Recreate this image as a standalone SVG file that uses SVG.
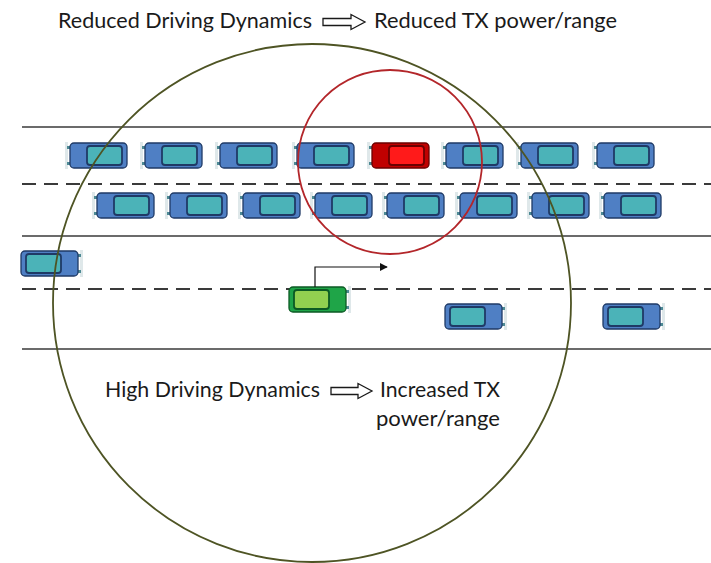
<svg xmlns="http://www.w3.org/2000/svg" xmlns:xlink="http://www.w3.org/1999/xlink" width="711" height="563" viewBox="0 0 711 563">
  <style>
    .road { stroke: #3a3a3a; stroke-width: 1.6; fill: none; }
    .lane { stroke: #3a3a3a; stroke-width: 1.8; fill: none; stroke-dasharray: 14 8; }
    .lbl { font-family: Lato, "Liberation Sans", sans-serif; font-size: 21px; fill: #1a1a1a; }
    .hollow { fill: #ffffff; stroke: #1a1a1a; stroke-width: 1.3; stroke-linejoin: miter; }
    .body { fill: var(--body, #4f7fc4); stroke: var(--edge, #1f3a66); stroke-width: 1.3; }
    .glass { fill: var(--glass, #4bb3b8); stroke: var(--edge, #1f3a66); stroke-width: 1.8; }
    .bumper { fill: #dfe8ea; }
    .lamp { fill: #4d8a94; }
    .red { --body: #c00000; --glass: #ff1a1a; --edge: #6b0000; }
    .green { --body: #1fa548; --glass: #92d050; --edge: #0c5a24; }
  </style>
  <defs>
    <!-- car facing left: bumper on the left, windscreen block towards the right -->
    <symbol id="car" overflow="visible">
      <rect class="bumper" x="-5" y="-1" width="3" height="27"/>
      <rect class="lamp" x="-3" y="3" width="3" height="3"/>
      <rect class="lamp" x="-3" y="19" width="3" height="3"/>
      <rect class="body" x="0" y="0" width="57" height="25" rx="4"/>
      <rect class="glass" x="17" y="3" width="35" height="19" rx="3"/>
    </symbol>
    <marker id="head" viewBox="0 0 10 10" refX="9" refY="5" markerWidth="8" markerHeight="8" orient="auto" markerUnits="userSpaceOnUse">
      <path d="M0,0 L10,5 L0,10 z" fill="#111"/>
    </marker>
  </defs>

  <!-- road markings -->
  <g id="road">
    <line class="road" x1="22" y1="127" x2="711" y2="127"/>
    <line class="lane" x1="22" y1="184" x2="711" y2="184"/>
    <line class="road" x1="22" y1="236" x2="711" y2="236"/>
    <line class="lane" x1="22" y1="289" x2="711" y2="289"/>
    <line class="road" x1="22" y1="349" x2="711" y2="349"/>
  </g>

  <!-- upper carriageway, lane 1 -->
  <g id="lane1">
    <g id="car-1-1"><use xlink:href="#car" x="70" y="143"/></g>
    <g id="car-1-2"><use xlink:href="#car" x="145" y="143"/></g>
    <g id="car-1-3"><use xlink:href="#car" x="220" y="143"/></g>
    <g id="car-1-4"><use xlink:href="#car" x="297" y="143"/></g>
    <g id="car-red" class="red"><use xlink:href="#car" x="372" y="143"/></g>
    <g id="car-1-6"><use xlink:href="#car" x="446" y="143"/></g>
    <g id="car-1-7"><use xlink:href="#car" x="521" y="143"/></g>
    <g id="car-1-8"><use xlink:href="#car" x="597" y="143"/></g>
  </g>

  <!-- upper carriageway, lane 2 -->
  <g id="lane2">
    <g id="car-2-1"><use xlink:href="#car" x="97" y="193"/></g>
    <g id="car-2-2"><use xlink:href="#car" x="170" y="193"/></g>
    <g id="car-2-3"><use xlink:href="#car" x="243" y="193"/></g>
    <g id="car-2-4"><use xlink:href="#car" x="315" y="193"/></g>
    <g id="car-2-5"><use xlink:href="#car" x="387" y="193"/></g>
    <g id="car-2-6"><use xlink:href="#car" x="460" y="193"/></g>
    <g id="car-2-7"><use xlink:href="#car" x="532" y="193"/></g>
    <g id="car-2-8"><use xlink:href="#car" x="604" y="193"/></g>
  </g>

  <!-- lower carriageway, cars facing right -->
  <g id="lane3">
    <g id="car-3-1"><use xlink:href="#car" transform="translate(78 251) scale(-1 1)"/></g>
    <g id="car-green" class="green"><use xlink:href="#car" transform="translate(346 287) scale(-1 1)"/></g>
    <g id="car-4-1"><use xlink:href="#car" transform="translate(502 304) scale(-1 1)"/></g>
    <g id="car-4-2"><use xlink:href="#car" transform="translate(660 304) scale(-1 1)"/></g>
  </g>

  <!-- transmission ranges -->
  <g id="ranges" fill="none">
    <circle id="range-high" cx="312" cy="303" r="259" stroke="#4e5424" stroke-width="1.8"/>
    <circle id="range-low" cx="390" cy="162" r="92" stroke="#b3262a" stroke-width="1.8"/>
  </g>

  <!-- lane change intent of the green car -->
  <g id="connectors">
    <path d="M315,287 V267 H387" fill="none" stroke="#111" stroke-width="1.2" marker-end="url(#head)"/>
  </g>

  <!-- captions -->
  <g id="caption-top">
    <text class="lbl" x="58" y="28" textLength="254" lengthAdjust="spacingAndGlyphs">Reduced Driving Dynamics</text>
    <path class="hollow" d="M323,18.5 H351 V14.5 L365,22 L351,29.5 V25.5 H323 Z"/>
    <text class="lbl" x="374" y="28" textLength="243" lengthAdjust="spacingAndGlyphs">Reduced TX power/range</text>
  </g>
  <g id="caption-bottom">
    <text class="lbl" x="105" y="397" textLength="215" lengthAdjust="spacingAndGlyphs">High Driving Dynamics</text>
    <path class="hollow" d="M331,387.5 H358 V383.5 L372,391 L358,398.5 V394.5 H331 Z"/>
    <text class="lbl" x="380" y="397" textLength="120" lengthAdjust="spacingAndGlyphs">Increased TX</text>
    <text class="lbl" x="376" y="426" textLength="124" lengthAdjust="spacingAndGlyphs">power/range</text>
  </g>
</svg>
